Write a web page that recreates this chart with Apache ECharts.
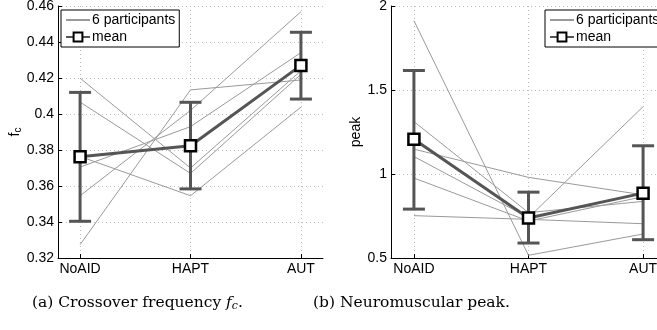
<!DOCTYPE html>
<html>
<head>
<meta charset="utf-8">
<script src="https://cdn.jsdelivr.net/npm/echarts@6/dist/echarts.min.js"></script>
<style>
  html, body { margin: 0; padding: 0; background: #fff; }
  #chart { width: 657px; height: 330px; }
</style>
</head>
<body>
<div id="chart"></div>
<script>
// categories on the x axis (placed at 1, 2, 3)
const categories = ['NoAID', 'HAPT', 'AUT'];
const xPos = [1, 2, 3];

// (a) crossover frequency fc, one row per participant
const fcParticipants = [
  [0.4199, 0.3700, 0.4240],
  [0.4066, 0.3670, 0.4220],
  [0.3764, 0.3546, 0.4038],
  [0.3705, 0.3930, 0.4341],
  [0.3546, 0.4020, 0.4568],
  [0.3274, 0.4134, 0.4189]
];
const fcMean = [0.3763, 0.3824, 0.4270];
const fcLow = [0.3404, 0.3584, 0.4083];
const fcHigh = [0.4120, 0.4065, 0.4454];

// (b) neuromuscular peak
const peakParticipants = [
  [1.913, 0.516, 0.643],
  [1.312, 0.770, 0.837],
  [1.148, 0.980, 0.876],
  [1.104, 0.740, 1.401],
  [0.976, 0.720, 0.865],
  [0.752, 0.730, 0.704]
];
const peakMean = [1.207, 0.738, 0.886];
const peakLow = [0.791, 0.589, 0.609];
const peakHigh = [1.616, 0.892, 1.168];

const FONT = 'Liberation Sans, Arial, sans-serif';
const SERIF = '"DejaVu Serif", serif';
const gridLine = { show: true, lineStyle: { color: '#bdbdbd', type: [1, 3], width: 1 } };

function fmt(v) {
  return String(parseFloat(v.toFixed(2)));
}

function errorBar(params, api) {
  const x = api.value(0);
  const top = api.coord([x, api.value(2)]);
  const bot = api.coord([x, api.value(1)]);
  const w = 11;
  const style = { stroke: '#555', lineWidth: 3 };
  return {
    type: 'group',
    children: [
      { type: 'line', shape: { x1: top[0], y1: top[1], x2: bot[0], y2: bot[1] }, style: style },
      { type: 'line', shape: { x1: top[0] - w, y1: top[1], x2: top[0] + w, y2: top[1] }, style: style },
      { type: 'line', shape: { x1: bot[0] - w, y1: bot[1], x2: bot[0] + w, y2: bot[1] }, style: style }
    ]
  };
}

function pairs(vals) {
  return vals.map((v, i) => [xPos[i], v]);
}

function buildSeries(idx, parts, mean, low, high) {
  let list = [];
  parts.forEach(p => {
    list.push({
      name: '6 participants',
      type: 'line',
      xAxisIndex: idx, yAxisIndex: idx,
      data: pairs(p),
      symbol: 'none',
      lineStyle: { color: '#9a9a9a', width: 1 },
      itemStyle: { color: '#9a9a9a' },
      emphasis: { disabled: true },
      z: 2
    });
  });
  list.push({
    type: 'custom',
    xAxisIndex: idx, yAxisIndex: idx,
    data: xPos.map((x, i) => [x, low[i], high[i]]),
    renderItem: errorBar,
    z: 3
  });
  list.push({
    name: 'mean',
    type: 'line',
    xAxisIndex: idx, yAxisIndex: idx,
    data: pairs(mean),
    symbol: 'rect',
    symbolSize: 11,
    lineStyle: { color: '#555', width: 3 },
    itemStyle: { color: '#fff', borderColor: '#000', borderWidth: 2.5 },
    emphasis: { disabled: true },
    z: 4
  });
  return list;
}

function xAxis(idx) {
  return {
    type: 'value', gridIndex: idx,
    min: 0.8, max: 3.2,
    axisLine: { lineStyle: { color: '#000', width: 1 } },
    axisTick: { show: true, inside: true, length: 4, customValues: xPos, lineStyle: { color: '#000' } },
    axisLabel: {
      customValues: xPos,
      formatter: v => categories[Math.round(v) - 1] || '',
      color: '#000', fontSize: 14, fontFamily: FONT, margin: 4
    },
    splitLine: gridLine
  };
}

const chart = echarts.init(document.getElementById('chart'), null, { renderer: 'canvas' });

const legendBase = {
  orient: 'vertical',
  top: 10,
  data: [
    { name: '6 participants', itemStyle: { opacity: 0, borderWidth: 0 } },
    { name: 'mean' }
  ],
  backgroundColor: '#fff',
  borderColor: '#000',
  borderWidth: 1,
  padding: [3, 4, 3, 4],
  itemGap: 3,
  itemWidth: 24,
  itemHeight: 11,
  selectedMode: false,
  textStyle: { color: '#000', fontSize: 14, fontFamily: FONT, padding: [0, 0, 0, -3] }
};

const option = {
  animation: false,
  backgroundColor: '#fff',
  grid: [
    { left: 58, top: 6, width: 265, height: 252, outerBoundsMode: 'none' },
    { left: 391, top: 6, width: 275, height: 252, outerBoundsMode: 'none' }
  ],
  xAxis: [xAxis(0), xAxis(1)],
  yAxis: [
    {
      type: 'value', gridIndex: 0,
      min: 0.32, max: 0.46, interval: 0.02,
      name: '{f|f}{c|c}',
      nameLocation: 'middle', nameGap: 34,
      nameTextStyle: {
        rich: {
          f: { fontSize: 14, fontFamily: FONT, color: '#000' },
          c: { fontSize: 10, fontFamily: FONT, color: '#000', verticalAlign: 'bottom', padding: [6, 0, 0, 0] }
        }
      },
      axisLine: { show: true, lineStyle: { color: '#000', width: 1 } },
      axisTick: { show: true, inside: true, length: 4, lineStyle: { color: '#000' } },
      axisLabel: { formatter: fmt, color: '#000', fontSize: 14, fontFamily: FONT, margin: 4 },
      splitLine: gridLine
    },
    {
      type: 'value', gridIndex: 1,
      min: 0.5, max: 2, interval: 0.5,
      name: 'peak',
      nameLocation: 'middle', nameGap: 19,
      nameTextStyle: { fontSize: 14, fontFamily: FONT, color: '#000' },
      axisLine: { show: true, lineStyle: { color: '#000', width: 1 } },
      axisTick: { show: true, inside: true, length: 4, lineStyle: { color: '#000' } },
      axisLabel: { formatter: fmt, color: '#000', fontSize: 14, fontFamily: FONT, margin: 4 },
      splitLine: gridLine
    }
  ],
  legend: [
    Object.assign({}, legendBase, { left: 61 }),
    Object.assign({}, legendBase, { left: 545 })
  ],
  graphic: [
    {
      type: 'text', left: 32, top: 295,
      style: {
        text: '(a) Crossover frequency {i|f}{s|c}.',
        font: '15.5px ' + SERIF,
        fill: '#000',
        rich: {
          i: { font: 'italic 15.5px ' + SERIF, fill: '#000' },
          s: { font: 'italic 11px ' + SERIF, fill: '#000', verticalAlign: 'bottom', padding: [7, 0, 0, 0] }
        }
      }
    },
    {
      type: 'text', left: 313, top: 295,
      style: {
        text: '(b) Neuromuscular peak.',
        font: '15.5px ' + SERIF,
        fill: '#000'
      }
    }
  ],
  series: [].concat(
    buildSeries(0, fcParticipants, fcMean, fcLow, fcHigh),
    buildSeries(1, peakParticipants, peakMean, peakLow, peakHigh)
  )
};

chart.setOption(option);
</script>
</body>
</html>
